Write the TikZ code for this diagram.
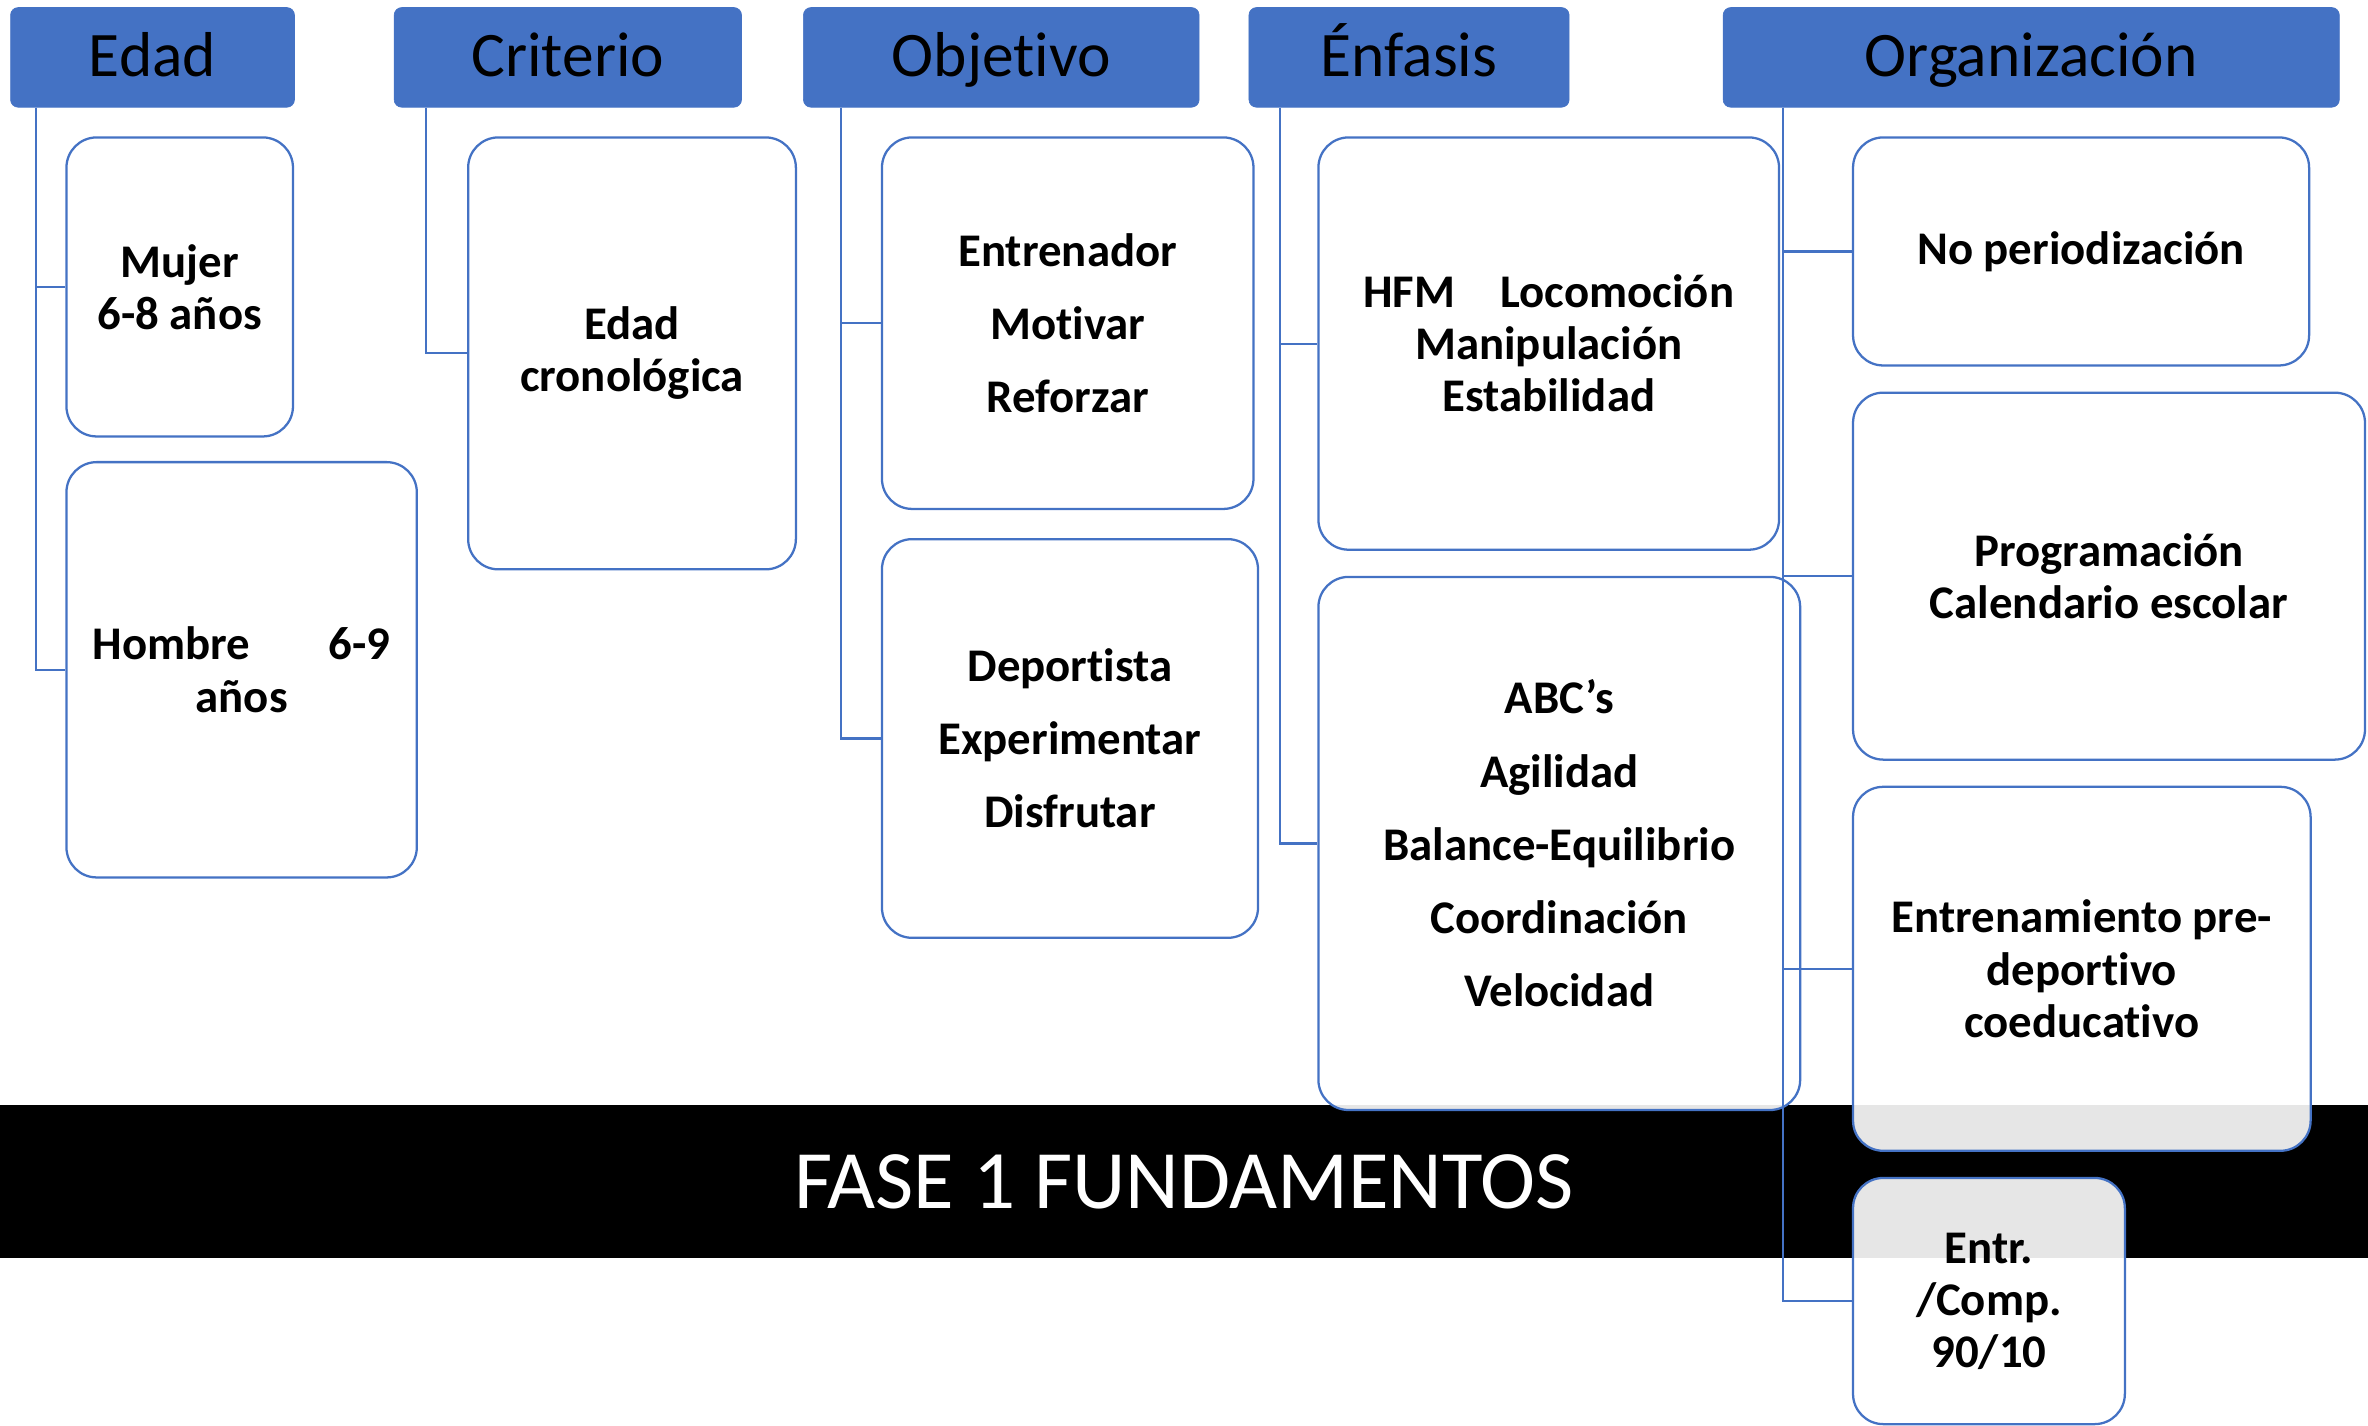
\documentclass[tikz,border=0pt]{standalone}
\usepackage{fontspec}
\setmainfont{Carlito}[Ligatures=NoCommon]
\definecolor{hdrblue}{HTML}{4472C4}
\begin{document}
\begin{tikzpicture}[x=1pt,y=-1pt,
  hdr/.style={rectangle, rounded corners=5pt, fill=hdrblue, draw=hdrblue, text=black,
    font=\fontsize{42}{46}\selectfont, inner sep=0pt, minimum height=66pt,
    text height=36pt, text depth=10.4pt},
  box/.style={rectangle, rounded corners=20pt, draw=hdrblue, line width=1.5pt,
    fill=white, fill opacity=0.9, text opacity=1, align=center,
    font=\bfseries\fontsize{31}{34.5}\selectfont, inner sep=0pt},
  conn/.style={draw=hdrblue, line width=1.4pt},
  band/.style={rectangle, fill=black, text=white, inner sep=0pt,
    font=\fontsize{55}{60}\selectfont}]
\useasboundingbox (0,0) rectangle (1568,944);
% band
\node[band, minimum width=1568pt, minimum height=101pt] (fase) at (784,782.5) {FASE 1 FUNDAMENTOS};
% headers
\node[hdr, minimum width=188pt] (edad) at (101,38) {Edad};
\node[hdr, minimum width=230pt] (crit) at (376,38) {Criterio};
\node[hdr, minimum width=262pt] (obj) at (663,38) {Objetivo};
\node[hdr, minimum width=212pt] (enf) at (933,38) {Énfasis};
\node[hdr, minimum width=408pt] (org) at (1345,38) {Organización};
% boxes
\node[box, minimum width=150pt, minimum height=198pt] (mujer) at (119,190) {Mujer\\6-8 años};
\node[box, minimum width=232pt, minimum height=275pt] (hombre) at (160,443.5) {Hombre\hspace{52pt}6-9\\años};
\node[box, minimum width=217pt, minimum height=286pt] (cron) at (418.5,234) {Edad\\cronológica};
\node[box, minimum width=246pt, minimum height=246pt] (obj1) at (707,214) {Entrenador\\[14pt]Motivar\\[14pt]Reforzar};
\node[box, minimum width=249pt, minimum height=264pt] (obj2) at (708.5,489) {Deportista\\[14pt]Experimentar\\[14pt]Disfrutar};
\node[box, minimum width=305pt, minimum height=273pt] (enf1) at (1025.5,227.5) {HFM\hspace{30pt}Locomoción\\Manipulación\\Estabilidad};
\node[box, minimum width=319pt, minimum height=353pt] (enf2) at (1032.5,558.5) {ABC’s\\[14pt]Agilidad\\[14pt]Balance-Equilibrio\\[14pt]Coordinación\\[14pt]Velocidad};
\node[box, minimum width=302pt, minimum height=151pt] (org1) at (1378,166.5) {No periodización};
\node[box, minimum width=339pt, minimum height=243pt] (org2) at (1396.5,381.5) {Programación\\Calendario escolar};
\node[box, minimum width=303pt, minimum height=241pt] (org3) at (1378.5,641.5) {Entrenamiento pre-\\deportivo\\coeducativo};
\node[box, minimum width=180pt, minimum height=163pt] (org4) at (1317,861.5) {Entr.\\/Comp.\\90/10};
% connectors
\draw[conn] ([xshift=17pt]edad.south west) |- (mujer.west);
\draw[conn] ([xshift=17pt]edad.south west) |- (hombre.west);
\draw[conn] ([xshift=21pt]crit.south west) |- (cron.west);
\draw[conn] ([xshift=25pt]obj.south west) |- (obj1.west);
\draw[conn] ([xshift=25pt]obj.south west) |- (obj2.west);
\draw[conn] ([xshift=21pt]enf.south west) |- (enf1.west);
\draw[conn] ([xshift=21pt]enf.south west) |- (enf2.west);
\draw[conn] ([xshift=40pt]org.south west) |- (org1.west);
\draw[conn] ([xshift=40pt]org.south west) |- (org2.west);
\draw[conn] ([xshift=40pt]org.south west) |- (org3.west);
\draw[conn] ([xshift=40pt]org.south west) |- (org4.west);
\end{tikzpicture}
\end{document}
